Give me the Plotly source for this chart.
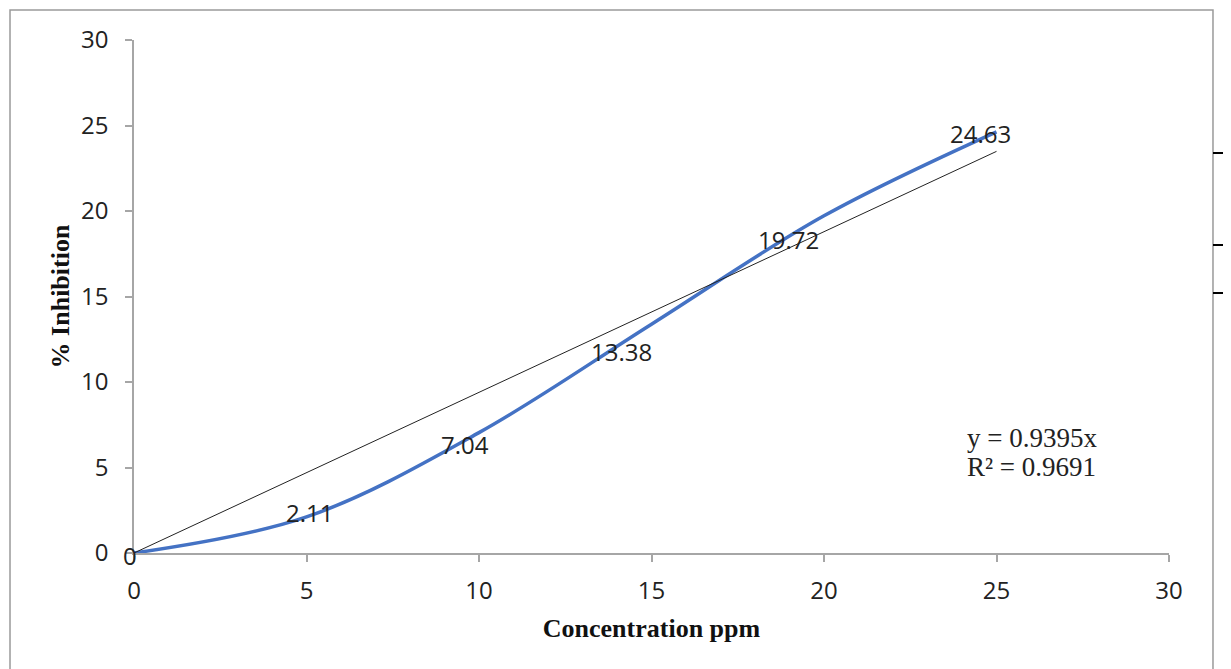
import plotly.graph_objects as go

conc = [0, 5, 10, 15, 20, 25]
inhibition = [0, 2.11, 7.04, 13.38, 19.72, 24.63]
labels = ["0", "2.11", "7.04", "13.38", "19.72", "24.63"]
slope = 0.9395
r2 = 0.9691
x_ticks = [0, 5, 10, 15, 20, 25, 30]
y_ticks = [0, 5, 10, 15, 20, 25, 30]

label_shift = [(-4, -2), (3, 4), (-14, -12), (-30, -27), (-36, -24), (-16, -2)]

SANS = "Open Sans, Lato, sans-serif"
SERIF = "Liberation Serif, Times New Roman, serif"

fig = go.Figure()
fig.add_trace(go.Scatter(
    x=conc, y=inhibition, mode="lines", line=dict(color="#4472C4", width=3.5, shape="spline", smoothing=1.0),
    showlegend=False, hoverinfo="skip"))
trend_x = [conc[0], conc[-1]]
trend_y = [slope * v for v in trend_x]
fig.add_trace(go.Scatter(
    x=trend_x, y=trend_y, mode="lines", line=dict(color="#222222", width=1),
    showlegend=False, hoverinfo="skip"))

for xv, yv, t, (dx, dy) in zip(conc, inhibition, labels, label_shift):
    fig.add_annotation(x=xv, y=yv, text=t, showarrow=False, xshift=dx, yshift=dy,
                       font=dict(family=SANS, size=24, color="#222222"))

fig.add_annotation(xref="paper", yref="paper", x=0.803, y=0.2242, xanchor="left", yanchor="middle",
                   text=f"y = {slope}x", showarrow=False,
                   font=dict(family=SERIF, size=27, color="#222222"))
fig.add_annotation(xref="paper", yref="paper", x=0.803, y=0.1676, xanchor="left", yanchor="middle",
                   text=f"R² = {r2}", showarrow=False,
                   font=dict(family=SERIF, size=27, color="#222222"))

shapes = [
    dict(type="rect", xref="paper", yref="paper", x0=-0.1198, x1=1.0425, y0=-0.35, y1=1.0585,
         line=dict(color="#9a9a9a", width=1.5), layer="below"),
]
for yp in [0.7797, 0.6004, 0.5068]:
    shapes.append(dict(type="line", xref="paper", yref="paper", x0=1.0425, x1=1.07, y0=yp, y1=yp,
                       line=dict(color="#000000", width=2)))

fig.update_layout(
    width=1223, height=661,
    margin=dict(l=126, r=62, t=32, b=116),
    paper_bgcolor="white", plot_bgcolor="white",
    shapes=shapes,
    xaxis=dict(range=[0, 30], tickvals=x_ticks, showgrid=False, zeroline=False,
               showline=True, linecolor="#a6a6a6", linewidth=1.5,
               ticks="outside", ticklen=7, tickcolor="#a6a6a6", tickwidth=1.5,
               ticklabelstandoff=8,
               tickfont=dict(family=SANS, size=24, color="#222222"),
               title=dict(text="<b>Concentration ppm</b>", standoff=14,
                          font=dict(family=SERIF, size=26, color="#111111"))),
    yaxis=dict(range=[0, 30], tickvals=y_ticks, showgrid=False, zeroline=False,
               showline=True, linecolor="#a6a6a6", linewidth=1.5,
               ticks="outside", ticklen=7, tickcolor="#a6a6a6", tickwidth=1.5,
               ticklabelstandoff=12,
               tickfont=dict(family=SANS, size=24, color="#222222"),
               title=dict(text="<b>% Inhibition</b>", standoff=4,
                          font=dict(family=SERIF, size=26, color="#111111"))),
)

fig.write_html("out.html")
